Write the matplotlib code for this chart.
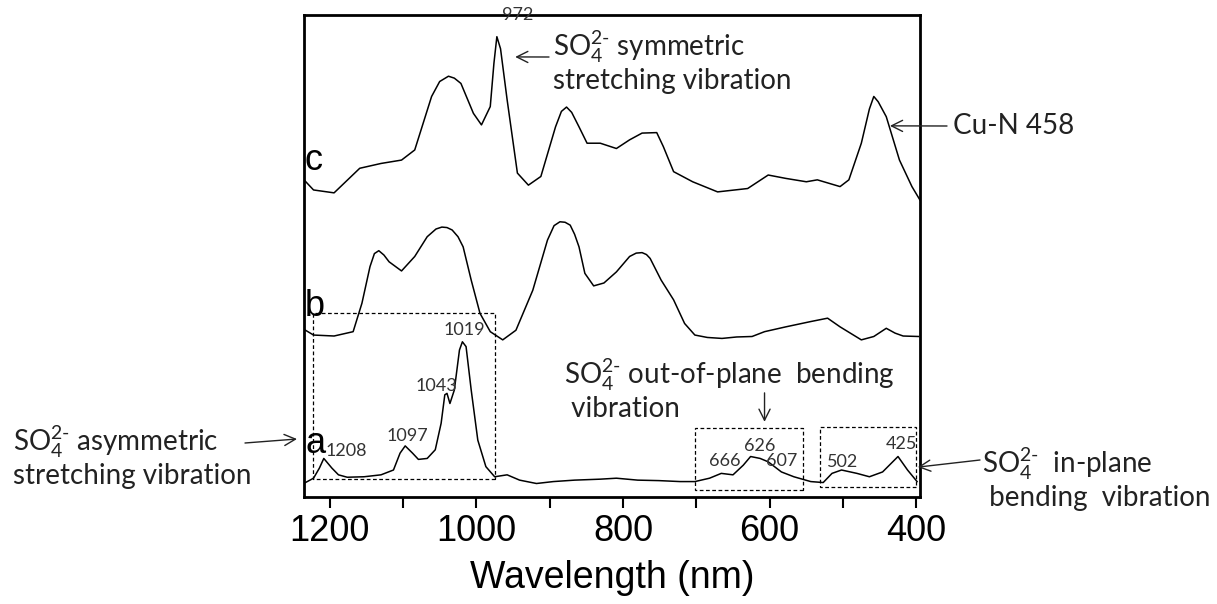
import matplotlib.pyplot as plt
from matplotlib.patches import Rectangle

# spectra (wavelength nm, intensity a.u.)
wl_a = [1233, 1222, 1214, 1208, 1197, 1188, 1176, 1153, 1130, 1113,
        1104, 1097, 1087, 1079, 1067, 1056, 1048, 1043, 1040, 1036,
        1030, 1023, 1019, 1014, 1007, 998, 987, 975, 958, 941,
        918, 895, 866, 831, 809, 780, 751, 722, 702, 682,
        666, 650, 636, 626, 613, 602, 584, 567, 544, 527,
        515, 502, 481, 464, 446, 425, 412, 399]
int_a = [3.0, 3.9, 6.0, 8.0, 6.0, 4.6, 4.1, 4.2, 4.6, 5.6,
         9.1, 10.6, 9.1, 7.8, 8.0, 9.8, 15.3, 21.2, 21.5, 19.4,
         22.2, 30.5, 32.2, 31.2, 22.2, 11.8, 6.3, 4.2, 4.6, 3.5,
         2.8, 3.2, 3.5, 3.7, 3.9, 3.5, 3.4, 3.2, 3.2, 3.9,
         4.9, 4.6, 6.6, 8.4, 8.0, 7.3, 5.2, 4.2, 3.2, 3.0,
         4.9, 5.6, 4.9, 4.2, 5.2, 8.4, 5.6, 3.2]

wl_b = [1233, 1222, 1194, 1168, 1156, 1145, 1139, 1133, 1126, 1119,
        1102, 1084, 1067, 1055, 1047, 1040, 1033, 1025, 1018, 1007,
        995, 981, 964, 946, 923, 903, 894, 886, 879, 872,
        866, 860, 852, 840, 826, 809, 791, 782, 774, 768,
        763, 748, 731, 716, 702, 685, 665, 645, 624, 607,
        578, 544, 521, 504, 475, 458, 441, 429, 418, 397]
int_b = [34.6, 33.6, 33.4, 34.3, 40.2, 47.8, 50.5, 51.1, 50.2, 48.8,
         46.9, 49.9, 54.0, 55.6, 56.0, 55.9, 55.4, 54.0, 51.9, 45.0,
         38.1, 34.3, 32.6, 34.6, 42.9, 53.3, 56.3, 57.1, 57.0, 56.4,
         54.5, 51.9, 46.4, 43.8, 44.4, 46.7, 49.9, 50.6, 50.7, 50.3,
         49.5, 45.0, 40.9, 36.0, 33.6, 33.1, 32.9, 33.2, 33.3, 34.3,
         35.3, 36.4, 37.1, 35.3, 32.6, 33.3, 35.0, 34.0, 33.4, 33.3]

wl_c = [1235, 1222, 1194, 1159, 1130, 1102, 1084, 1061, 1050, 1038,
        1030, 1021, 1004, 993, 981, 976, 972, 967, 958, 944,
        929, 912, 892, 884, 877, 870, 860, 849, 831, 809,
        791, 774, 754, 745, 731, 705, 671, 630, 602, 578,
        550, 535, 504, 492, 475, 464, 458, 452, 441, 423,
        406, 395]
int_c = [65.8, 63.7, 63.1, 68.2, 69.2, 69.9, 72.0, 83.1, 86.2, 87.3,
         86.9, 85.8, 79.6, 77.2, 81.0, 90.0, 95.5, 93.0, 82.4, 67.2,
         64.7, 66.5, 76.8, 80.0, 80.9, 79.8, 76.8, 73.4, 73.4, 72.3,
         74.1, 75.5, 75.6, 72.7, 67.5, 65.4, 63.3, 64.0, 66.8, 66.1,
         65.4, 65.8, 64.4, 65.8, 73.4, 80.5, 83.1, 82.0, 78.9, 69.9,
         64.4, 61.6]

# peak labels: text, wavelength, height of the label
peak_text = ["1208", "1097", "1043", "1019", "666", "626", "607", "502", "425", "972"]
peak_wl = [1177, 1094, 1054, 1017, 661, 613, 583, 500, 420, 943]
peak_y = [9.5, 12.7, 23.0, 34.6, 7.5, 10.6, 7.5, 7.3, 11.0, 100.0]

# dashed boxes: wl from, wl to, y from, y to
box_wl0 = [975, 554, 401]
box_wl1 = [1223, 702, 531]
box_y0 = [3.7, 1.5, 2.1]
box_y1 = [38.1, 14.3, 14.5]

W, H = 1217, 604
plt.rcParams['font.family'] = ['Liberation Sans', 'DejaVu Sans']
plt.rcParams['mathtext.fontset'] = 'custom'
plt.rcParams['mathtext.rm'] = 'Lato'
plt.rcParams['mathtext.it'] = 'Lato:italic'
plt.rcParams['mathtext.default'] = 'rm'

fig = plt.figure(figsize=(W / 100, H / 100), dpi=100)
ax = fig.add_axes([304 / W, 1 - 497 / H, 616 / W, 482 / H])

for wl, val in [(wl_a, int_a), (wl_b, int_b), (wl_c, int_c)]:
    ax.plot(wl, val, color='black', lw=1.1, solid_joinstyle='round')

for x0, x1, y0, y1 in zip(box_wl0, box_wl1, box_y0, box_y1):
    ax.add_patch(Rectangle((x0, y0), x1 - x0, y1 - y0, fill=False,
                           ls=(0, (3, 2)), lw=0.9, color='black'))

ax.set_xlim(1235, 395)
ax.set_ylim(0, 100)
ax.set_yticks([])
ax.set_xticks([1200, 1000, 800, 600, 400])
ax.set_xticks([1100, 900, 700, 500], minor=True)
ax.tick_params(axis='x', which='both', direction='out', length=8,
               width=1.5, labelsize=26, pad=4)
for s in ax.spines.values():
    s.set_linewidth(2)
ax.set_xlabel('Wavelength (nm)', fontsize=27, labelpad=8)

# curve letters
ax.text(1222, 69.9, 'c', fontsize=26, ha='center', va='center')
ax.text(1220, 39.6, 'b', fontsize=26, ha='center', va='center')
ax.text(1219, 11.0, 'a', fontsize=26, ha='center', va='center')

for t, x, y in zip(peak_text, peak_wl, peak_y):
    ax.text(x, y, t, family='Lato', fontsize=13, ha='center', va='center',
            color='#333333', clip_on=False)

tc = '#222222'
so4 = 'SO$_4^{2\u2010}$'


def fx(x, y):
    return x / W, 1 - y / H


fig.text(*fx(553, 28), so4 + ' symmetric\nstretching vibration', family='Lato',
         fontsize=20, va='top', ha='left', color=tc, linespacing=1.15)
fig.text(*fx(953, 126), 'Cu-N 458', family='Lato', fontsize=20,
         va='center', ha='left', color=tc)
fig.text(*fx(13, 423), so4 + ' asymmetric\nstretching vibration', family='Lato',
         fontsize=20, va='top', ha='left', color=tc, linespacing=1.15)
fig.text(*fx(982, 445), so4 + '  in-plane\n bending  vibration', family='Lato',
         fontsize=20, va='top', ha='left', color=tc, linespacing=1.15)
fig.text(*fx(564, 356), so4 + ' out-of-plane  bending\n vibration', family='Lato',
         fontsize=20, va='top', ha='left', color=tc, linespacing=1.15)

arrow = dict(arrowstyle='->', lw=1.0, color=tc, shrinkA=0, shrinkB=0,
             mutation_scale=20)
ax.annotate('', xy=(947, 91.3), xytext=fx(549, 57), textcoords='figure fraction',
            arrowprops=arrow, annotation_clip=False)
ax.annotate('', xy=(436, 77.0), xytext=fx(947, 126), textcoords='figure fraction',
            arrowprops=arrow, annotation_clip=False)
ax.annotate('', xy=(607, 15.6), xytext=(607, 21.6), arrowprops=arrow,
            annotation_clip=False)
ax.annotate('', xy=fx(297, 439), xycoords='figure fraction', xytext=fx(245, 443),
            textcoords='figure fraction', arrowprops=arrow, annotation_clip=False)
ax.annotate('', xy=(398, 6.2), xytext=fx(980, 460), textcoords='figure fraction',
            arrowprops=arrow, annotation_clip=False)

fig.savefig('out.png', dpi=100)
